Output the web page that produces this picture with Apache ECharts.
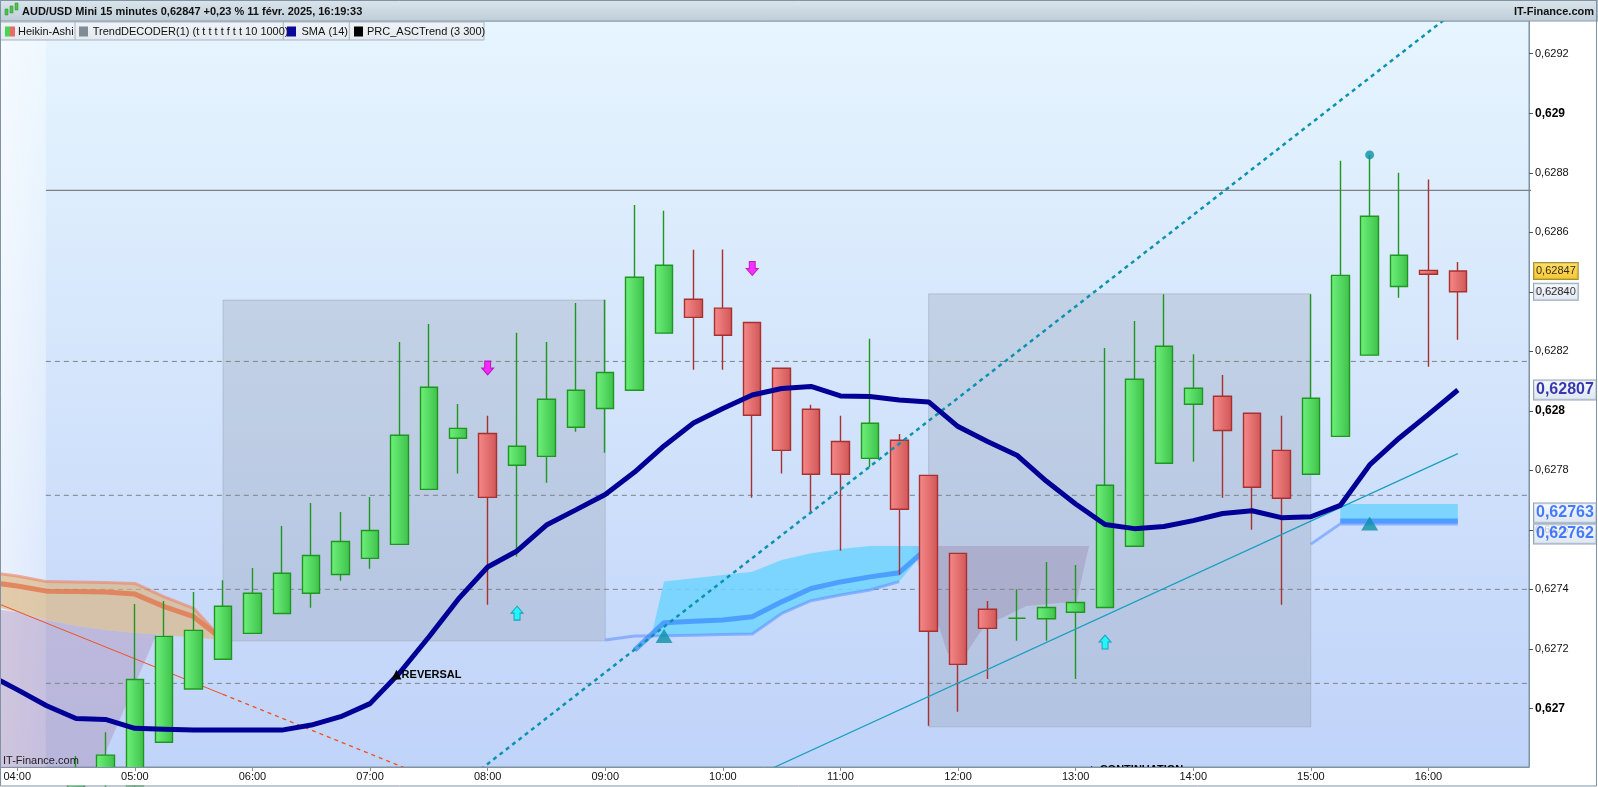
<!DOCTYPE html>
<html><head><meta charset="utf-8">
<script src="https://cdn.jsdelivr.net/npm/echarts@6/dist/echarts.min.js"></script>
<style>html,body{margin:0;padding:0;background:#fff;}#c{width:1598px;height:787px;}</style>
</head><body><div id="c"></div>
<script>
// ---------- DATA ----------
const candleTimes = ["04:30","04:45","05:00","05:15","05:30","05:45","06:00","06:15","06:30","06:45","07:00","07:15","07:30","07:45","08:00","08:15","08:30","08:45","09:00","09:15","09:30","09:45","10:00","10:15","10:30","10:45","11:00","11:15","11:30","11:45","12:00","12:15","12:30","12:45","13:00","13:15","13:30","13:45","14:00","14:15","14:30","14:45","15:00","15:15","15:30","15:45","16:00","16:15"];
const opens  = [0.62672,0.62676,0.62674,0.626886,0.627065,0.627165,0.627252,0.627319,0.627387,0.627450,0.627504,0.627551,0.627736,0.627908,0.627924,0.627817,0.627847,0.627945,0.628008,0.628069,0.628261,0.628375,0.628345,0.628297,0.628143,0.628005,0.627897,0.627840,0.627901,0.627783,0.627521,0.627333,0.627303,0.627301,0.627323,0.627339,0.627545,0.627824,0.628022,0.628049,0.627992,0.627867,0.627787,0.627914,0.628187,0.628418,0.628472,0.62847];
const closes = [0.62676,0.626843,0.627097,0.627242,0.627262,0.627343,0.627387,0.627454,0.627514,0.627561,0.627598,0.627918,0.628079,0.627941,0.627709,0.627881,0.628039,0.628069,0.628129,0.628449,0.628489,0.628314,0.628254,0.627985,0.627867,0.627787,0.627787,0.627958,0.627669,0.627259,0.627148,0.627269,0.627303,0.627339,0.627356,0.627750,0.628106,0.628217,0.628076,0.627934,0.627743,0.627706,0.628042,0.628455,0.628654,0.628523,0.628459,0.62840];
const lows   = [0.62668,0.62672,0.62670,0.626886,0.627065,0.627165,0.627252,0.627319,0.627338,0.627429,0.627469,0.627551,0.627736,0.627789,0.627348,0.627510,0.627758,0.627930,0.627859,0.628069,0.628261,0.628138,0.628138,0.627708,0.627789,0.627659,0.627530,0.627810,0.627449,0.626942,0.626989,0.627099,0.627227,0.627227,0.627099,0.627339,0.627545,0.627824,0.627829,0.627708,0.627600,0.627348,0.627787,0.627914,0.628187,0.628380,0.628148,0.628239];
const highs  = [0.62684,0.62692,0.627351,0.627361,0.627391,0.627431,0.627472,0.627613,0.627690,0.627660,0.627710,0.628231,0.628292,0.628023,0.627983,0.628262,0.628231,0.628362,0.628373,0.628692,0.628672,0.628541,0.628542,0.628297,0.628143,0.628020,0.627983,0.628242,0.627922,0.627783,0.627521,0.627361,0.627400,0.627492,0.627482,0.628211,0.628302,0.628392,0.628190,0.628120,0.627992,0.627983,0.628392,0.628840,0.628860,0.628800,0.628777,0.628500];

const smaTimes  = ["03:45","04:00","04:15","04:30","04:45","05:00","05:15","05:30","05:45","06:00","06:15","06:30","06:45","07:00","07:15","07:30","07:45","08:00","08:15","08:30","08:45","09:00","09:15","09:30","09:45","10:00","10:15","10:30","10:45","11:00","11:15","11:30","11:45","12:00","12:15","12:30","12:45","13:00","13:15","13:30","13:45","14:00","14:15","14:30","14:45","15:00","15:15","15:30","15:45","16:00","16:15"];
const smaValues = [0.627115,0.627063,0.627009,0.626966,0.626963,0.626933,0.626930,0.626927,0.626927,0.626927,0.626927,0.626944,0.626972,0.627016,0.627119,0.627240,0.627367,0.627475,0.627529,0.627616,0.627667,0.627719,0.627794,0.627882,0.627959,0.628008,0.628053,0.628075,0.628082,0.628050,0.628048,0.628036,0.628030,0.627947,0.627897,0.627851,0.627764,0.627687,0.627618,0.627604,0.627611,0.627631,0.627655,0.627664,0.627641,0.627644,0.627682,0.627818,0.627908,0.627988,0.62807];

const hourLabels = ["04:00","05:00","06:00","07:00","08:00","09:00","10:00","11:00","12:00","13:00","14:00","15:00","16:00"];
const priceTicks = [0.627,0.6272,0.6274,0.6276,0.6278,0.628,0.6282,0.6284,0.6286,0.6288,0.629,0.6292];

const solidLevel = 0.628741;
const dashedLevels = [0.628166, 0.627716, 0.627400, 0.627084];

// boxes: [startTime, endTime, top, bottom]
const boxes = [["05:45","09:00",0.628372,0.627227],["11:45","15:00",0.628393,0.626938]];

// orange ASCTrend band
const orangeTop = [["03:45",0.627458],["04:00",0.627445],["04:15",0.627426],["04:30",0.627425],["04:45",0.627423],["05:00",0.627420],["05:15",0.627375],["05:30",0.627336],["05:45",0.627230]];
const orangeMid = [["03:45",0.627425],["04:00",0.627411],["04:15",0.627394],["04:30",0.627393],["04:45",0.627391],["05:00",0.627384],["05:15",0.627342],["05:30",0.627308],["05:45",0.627230]];
const tanLow    = [["03:45",0.627347],["04:00",0.627324],["04:15",0.627297],["04:30",0.627277],["04:45",0.627263],["05:00",0.627253],["05:15",0.627246],["05:30",0.627239],["05:45",0.627230]];
const purpleLeft = [["03:45",0.627337],["04:00",0.627324],["04:14.6",0.627297],["04:30",0.627277],["04:45",0.627263],["05:00",0.627253],["05:11",0.627248],["04:45.6",0.626860],["04:41.7",0.62678],["03:45",0.62678]];
const purpleBox = [["11:36.6",0.627546],["11:54.7",0.627185],["11:59.4",0.627186],["12:04.7",0.627190],["12:14.7",0.627290],["12:21.3",0.627300],["12:35",0.627344],["12:51.9",0.627354],["13:00.4",0.627357],["13:06.8",0.627546]];

// cyan band
const cyanTop    = [["09:24",0.627256],["09:30",0.627426],["09:45",0.627437],["10:00",0.627448],["10:15",0.627459],["10:30",0.627499],["10:45",0.627521],["11:00",0.627536],["11:15",0.627546],["11:30",0.627546],["11:45",0.627546]];
const cyanBottom = [["11:45",0.627543],["11:30",0.627426],["11:15",0.627398],["11:00",0.627381],["10:45",0.627362],["10:30",0.627319],["10:15",0.627250],["10:00",0.627248],["09:45",0.627246],["09:30",0.627244],["09:24",0.627244]];
const bandMid = [["09:15",0.627196],["09:30",0.627288],["09:45",0.627293],["10:00",0.627297],["10:15",0.627308],["10:30",0.627358],["10:45",0.627403],["11:00",0.627425],["11:15",0.627442],["11:30",0.627456],["11:45",0.627543]];
const bandLow = [["09:00",0.627230],["09:15",0.627243],["09:30",0.627244],["09:45",0.627246],["10:00",0.627248],["10:15",0.627250],["10:30",0.627319],["10:45",0.627362],["11:00",0.627381],["11:15",0.627398],["11:30",0.627426]];
const band2Fill = [["15:15",0.627687],["16:15",0.627687],["16:15",0.627625],["15:15",0.627625]];
const band2Mid = [["15:15",0.62763],["16:15",0.62763]];
const band2Low = [["15:00",0.627552],["15:15",0.62762],["16:15",0.62762]];

// trend lines
const redSolid  = [["03:45",0.627366],["05:45",0.627047]];
const redDashed = [["05:45",0.627047],["07:20",0.626794]];
const tealDashed = [["07:50",0.626762],["16:15",0.629350]];
const tealSolid  = [["10:20",0.626783],["16:15",0.627856]];

// markers
const magentaDown = [["08:00",0.628144],["10:15",0.628478]];
const cyanUp = [["08:15",0.627320],["13:15",0.627223]];
const tealTri = [["09:30",0.627243],["15:30",0.627621]];
const tealDot = [["15:30",0.628860]];
const notes = [["07:11",0.627113,"REVERSAL"],["13:05.6",0.626792," CONTINUATION"]];

const priceTags = [0.62847, 0.62840, 0.62807, 0.62763, 0.62762];

// ---------- HELPERS ----------
const tm = s => { const p = s.split(':'); return (+p[0]) * 60 + parseFloat(p[1]); };
const pts = arr => arr.map(p => [tm(p[0]), p[1]]);
const fmtT = v => { const h = Math.floor(v / 60), m = Math.round(v % 60); return String(h).padStart(2,'0') + ':' + String(m).padStart(2,'0'); };
const xMin = 231.2, xMax = 1011.3, yMin = 0.626803, yMax = 0.62931;
const G = echarts.graphic.LinearGradient;
const FONT = '"Liberation Sans", Arial, sans-serif';

function polySeries(arr, fill, z, stroke) {
  return { type: 'custom', z, silent: true, data: [[0, 0]],
    renderItem: (params, api) => {
      const c = params.coordSys;
      return { type: 'polygon',
        shape: { points: arr.map(p => api.coord([tm(p[0]), p[1]])) },
        style: { fill, stroke: stroke || null, lineWidth: 1 },
        clipPath: { type: 'rect', shape: { x: c.x, y: c.y, width: c.width, height: c.height } } };
    } };
}
function lineSeries(arr, color, width, type, z) {
  return { type: 'line', data: pts(arr), symbol: 'none', silent: true, z,
    lineStyle: { color, width, type: type || 'solid', cap: 'butt' } };
}

const series = [];
// left light strip
series.push(polySeries([["03:40",yMin],["04:14.6",yMin],["04:14.6",yMax],["03:40",yMax]],
  new G(0,0,1,0,[{offset:0,color:'rgba(255,255,255,0.75)'},{offset:1,color:'rgba(255,255,255,0.35)'}]), 1));
// boxes (behind everything else)
boxes.forEach(b => series.push(polySeries([[b[0],b[2]],[b[1],b[2]],[b[1],b[3]],[b[0],b[3]]], 'rgba(140,150,168,0.28)', 1.5, 'rgba(150,160,178,0.45)')));
// horizontal levels
series.push(lineSeries([["04:14.6",solidLevel],["17:00",solidLevel]], '#7d8286', 1.3, 'solid', 2));
dashedLevels.forEach(v => series.push(lineSeries([["04:14.6",v],["17:00",v]], '#7f8388', 1, [5,4], 2)));
// purple areas
series.push(polySeries(purpleLeft, 'rgba(175,140,180,0.42)', 2));
series.push(polySeries(purpleBox, 'rgba(150,120,160,0.33)', 2));
// tan band
series.push(polySeries(orangeTop.concat(tanLow.slice().reverse()), 'rgba(222,178,115,0.6)', 3));
series.push(lineSeries(orangeTop, 'rgba(238,128,100,0.6)', 3, 'solid', 3));
series.push(lineSeries(orangeMid, 'rgba(226,118,78,0.8)', 5, 'solid', 3));
// cyan bands
series.push(polySeries(cyanTop.concat(cyanBottom), 'rgba(110,212,255,0.85)', 3));
series.push(lineSeries(bandLow, 'rgba(90,140,255,0.55)', 3, 'solid', 3));
series.push(lineSeries(bandMid, 'rgba(60,140,255,0.75)', 5, 'solid', 3));
series.push(polySeries(band2Fill, 'rgba(110,212,255,0.85)', 3));
series.push(lineSeries(band2Low, 'rgba(90,140,255,0.55)', 3, 'solid', 3));
series.push(lineSeries(band2Mid, 'rgba(60,140,255,0.75)', 5, 'solid', 3));
// red trend
series.push(lineSeries(redSolid, '#f05020', 1, 'solid', 4));
series.push(lineSeries(redDashed, '#f05020', 1.2, [4,4], 4));
// candles
series.push({ type: 'candlestick', z: 5, barWidth: 18, silent: true, clip: true,
  dimensions: ['t','open','close','lowest','highest'], encode: { x: 0, y: [1,2,3,4] },
  data: candleTimes.map((t,i) => [tm(t), opens[i], closes[i], lows[i], highs[i]]),
  itemStyle: {
    color: new G(0,0,1,0,[{offset:0,color:'#6ef27c'},{offset:1,color:'#3ec14b'}]),
    color0: new G(0,0,1,0,[{offset:0,color:'#f78a8a'},{offset:1,color:'#d05656'}]),
    borderColor: '#1f961f', borderColor0: '#a83030', borderWidth: 1.4 } });
// teal lines
series.push(lineSeries(tealDashed, '#0a93b0', 2.5, [4,4], 7));
series.push(lineSeries(tealSolid, '#1a9ec0', 1.2, 'solid', 7));
// SMA
series.push({ type: 'line', z: 8, silent: true, symbol: 'none', data: smaTimes.map((t,i) => [tm(t), smaValues[i]]),
  lineStyle: { color: '#000096', width: 5 } });
// markers
series.push({ type: 'scatter', z: 9, silent: true, data: pts(magentaDown), symbol: 'path://M3,0 H9 V7 H12 L6,14 L0,7 H3 Z', symbolSize: [12,14],
  itemStyle: { color: '#ff00ff', borderColor: '#b000b0', borderWidth: 1 } });
series.push({ type: 'scatter', z: 9, silent: true, data: pts(cyanUp), symbol: 'path://M6,0 L12,7 H9 V14 H3 V7 H0 Z', symbolSize: [12,14],
  itemStyle: { color: '#00ffff', borderColor: '#0096aa', borderWidth: 1 } });
series.push({ type: 'scatter', z: 9, silent: true, data: pts(tealTri), symbol: 'triangle', symbolSize: [17,14],
  itemStyle: { color: '#0a90a8' } });
series.push({ type: 'scatter', z: 9, silent: true, data: pts(tealDot), symbol: 'circle', symbolSize: 9,
  itemStyle: { color: '#0a90a8' } });
// notes (▲ + label)
series.push({ type: 'custom', z: 9, silent: true, data: notes.map(n => [tm(n[0]), n[1]]),
  renderItem: (params, api) => {
    const c = params.coordSys; const p = api.coord([api.value(0), api.value(1)]);
    return { type: 'text',
      style: { x: p[0], y: p[1], text: '{t|▲}{l|' + notes[params.dataIndex][2] + '}', align: 'left', verticalAlign: 'middle',
        rich: { t: { fontFamily: '"DejaVu Sans", sans-serif', fontSize: 13, fill: '#000', color: '#000' },
                l: { fontFamily: FONT, fontSize: 11, fontWeight: 'bold', fill: '#000', color: '#000' } } },
      clipPath: { type: 'rect', shape: { x: c.x, y: c.y, width: c.width, height: c.height } } };
  } });
// price tags on the right axis
const tagStyles = [
  { backgroundColor: new G(0,0,0,1,[{offset:0,color:'#ffd84a'},{offset:1,color:'#f2b800'}]), borderColor: '#8a7420', color: '#000', fontSize: 11, fontWeight: 'normal', padding: [3,2,2,2], offset: [0,0] },
  { backgroundColor: new G(0,0,0,1,[{offset:0,color:'#f6f8fc'},{offset:1,color:'#dde5f1'}]), borderColor: '#7890a8', color: '#000', fontSize: 11, fontWeight: 'normal', padding: [3,2,2,2], offset: [0,0] },
  { backgroundColor: new G(0,0,0,1,[{offset:0,color:'#f6f8fc'},{offset:1,color:'#d6e0ee'}]), borderColor: '#7890a8', color: '#0a0a9c', fontSize: 16, fontWeight: 'bold', padding: [2,2,1,2], offset: [0,0] },
  { backgroundColor: new G(0,0,0,1,[{offset:0,color:'#f6f8fc'},{offset:1,color:'#d6e0ee'}]), borderColor: '#7890a8', color: '#1a5cff', fontSize: 16, fontWeight: 'bold', padding: [2,2,1,2], offset: [0,-8] },
  { backgroundColor: new G(0,0,0,1,[{offset:0,color:'#f6f8fc'},{offset:1,color:'#d6e0ee'}]), borderColor: '#7890a8', color: '#1a5cff', fontSize: 16, fontWeight: 'bold', padding: [2,2,1,2], offset: [0,10] }
];
series.push({ type: 'scatter', z: 10, silent: true, clip: false, symbolSize: 0,
  data: priceTags.map((v,i) => ({ value: [xMax, v], label: Object.assign({ show: true, position: 'right', distance: 5, borderWidth: 1,
    fontFamily: FONT, formatter: () => v.toFixed(5).replace('.', ',') }, tagStyles[i]) })) });

const titleText = 'AUD/USD Mini 15 minutes 0,62847 +0,23 % 11 févr. 2025, 16:19:33';
const legendItems = [
  { x: 18, text: 'Heikin-Ashi' },
  { x: 92.7, text: 'TrendDECODER(1) (t t t t t f t t 10 1000)', sq: '#7f8c95', sqx: 79 },
  { x: 301.5, text: 'SMA (14)', sq: '#0a0a9a', sqx: 287 },
  { x: 367, text: 'PRC_ASCTrend (3 300)', sq: '#000000', sqx: 354 }
];
const graphics = [
  // cover under the plot so candles below the axis are clipped
  { type: 'rect', z: 50, shape: { x: 1, y: 768, width: 1527.5, height: 17.5 }, style: { fill: '#ffffff' } },
  { type: 'rect', z: 100, shape: { x: 0, y: 0, width: 1598, height: 21 }, style: { fill: new G(0,0,0,1,[{offset:0,color:'#dbe5ec'},{offset:1,color:'#bfcdd8'}]), stroke: '#8a9cab', lineWidth: 1 } },
  { type: 'text', z: 101, x: 22, y: 12, style: { text: titleText, font: 'bold 11px ' + FONT, fill: '#111', verticalAlign: 'middle' } },
  { type: 'text', z: 101, x: 1594, y: 12, style: { text: 'IT-Finance.com', font: 'bold 11px ' + FONT, fill: '#111', align: 'right', verticalAlign: 'middle' } },
  // tiny candle icon
  { type: 'rect', z: 101, shape: { x: 5, y: 9, width: 3, height: 6 }, style: { fill: '#48c848', stroke: '#2a8a2a', lineWidth: 0.5 } },
  { type: 'rect', z: 101, shape: { x: 10, y: 6, width: 3, height: 7 }, style: { fill: '#48c848', stroke: '#2a8a2a', lineWidth: 0.5 } },
  { type: 'rect', z: 101, shape: { x: 15, y: 3, width: 3, height: 7 }, style: { fill: '#48c848', stroke: '#2a8a2a', lineWidth: 0.5 } },
  // legend row
  { type: 'rect', z: 100, shape: { x: 0, y: 22, width: 484, height: 18 }, style: { fill: new G(0,0,0,1,[{offset:0,color:'#f1f4f7'},{offset:1,color:'#e3e9ef'}]), stroke: '#a6b3bf', lineWidth: 1 } },
  { type: 'rect', z: 101, shape: { x: 5, y: 26.5, width: 5, height: 10 }, style: { fill: '#4fd24f' } },
  { type: 'rect', z: 101, shape: { x: 10, y: 26.5, width: 5, height: 10 }, style: { fill: '#e86a6a' } }
];
[75, 283.3, 349.3].forEach(x => graphics.push({ type: 'line', z: 101, shape: { x1: x, y1: 22, x2: x, y2: 40 }, style: { stroke: '#a6b3bf', lineWidth: 1 } }));
legendItems.forEach(it => {
  if (it.sq) graphics.push({ type: 'rect', z: 101, shape: { x: it.sqx, y: 26.5, width: 9, height: 10 }, style: { fill: it.sq } });
  graphics.push({ type: 'text', z: 101, x: it.x, y: 31.5, style: { text: it.text, font: '11px ' + FONT, fill: '#111', verticalAlign: 'middle' } });
});
graphics.push({ type: 'text', z: 100, x: 3, y: 761, style: { text: 'IT-Finance.com', font: '11px ' + FONT, fill: '#222', verticalAlign: 'middle' } });
graphics.push({ type: 'rect', z: 100, shape: { x: 0.5, y: 0.5, width: 1596, height: 785.5 }, style: { fill: null, stroke: '#7f93a5', lineWidth: 1 } });

const chart = echarts.init(document.getElementById('c'), null, { renderer: 'canvas', width: 1598, height: 787 });
chart.setOption({
  animation: false,
  backgroundColor: '#ffffff',
  grid: { left: 0, right: 69, top: 21, bottom: 20, show: true,
    backgroundColor: new G(0,0,0,1,[{offset:0,color:'#e6f5fe'},{offset:1,color:'#c0d3f9'}]),
    borderColor: '#7f93a5', borderWidth: 1 },
  xAxis: { type: 'value', min: xMin, max: xMax, z: 60,
    axisLine: { show: true, lineStyle: { color: '#7f93a5' } },
    axisTick: { show: true, length: 4, customValues: hourLabels.map(tm), lineStyle: { color: '#7f93a5' } },
    axisLabel: { customValues: hourLabels.map(tm), formatter: v => fmtT(v), fontSize: 11, color: '#111', fontFamily: FONT, margin: 4, showMinLabel: true, showMaxLabel: true },
    splitLine: { show: false } },
  yAxis: { type: 'value', position: 'right', min: yMin, max: yMax,
    axisLine: { show: true, lineStyle: { color: '#7f93a5' } },
    axisTick: { show: true, length: 4, customValues: priceTicks, lineStyle: { color: '#555' } },
    axisLabel: { customValues: priceTicks, margin: 6, fontFamily: FONT,
      formatter: v => { const s = String(+v.toFixed(4)).replace('.', ','); return Math.abs(v * 1000 - Math.round(v * 1000)) < 1e-6 ? '{b|' + s + '}' : '{n|' + s + '}'; },
      rich: { b: { fontSize: 12, fontWeight: 'bold', color: '#000', fontFamily: FONT }, n: { fontSize: 11, color: '#111', fontFamily: FONT } } },
    splitLine: { show: false } },
  series,
  graphic: graphics
});
</script></body></html>
